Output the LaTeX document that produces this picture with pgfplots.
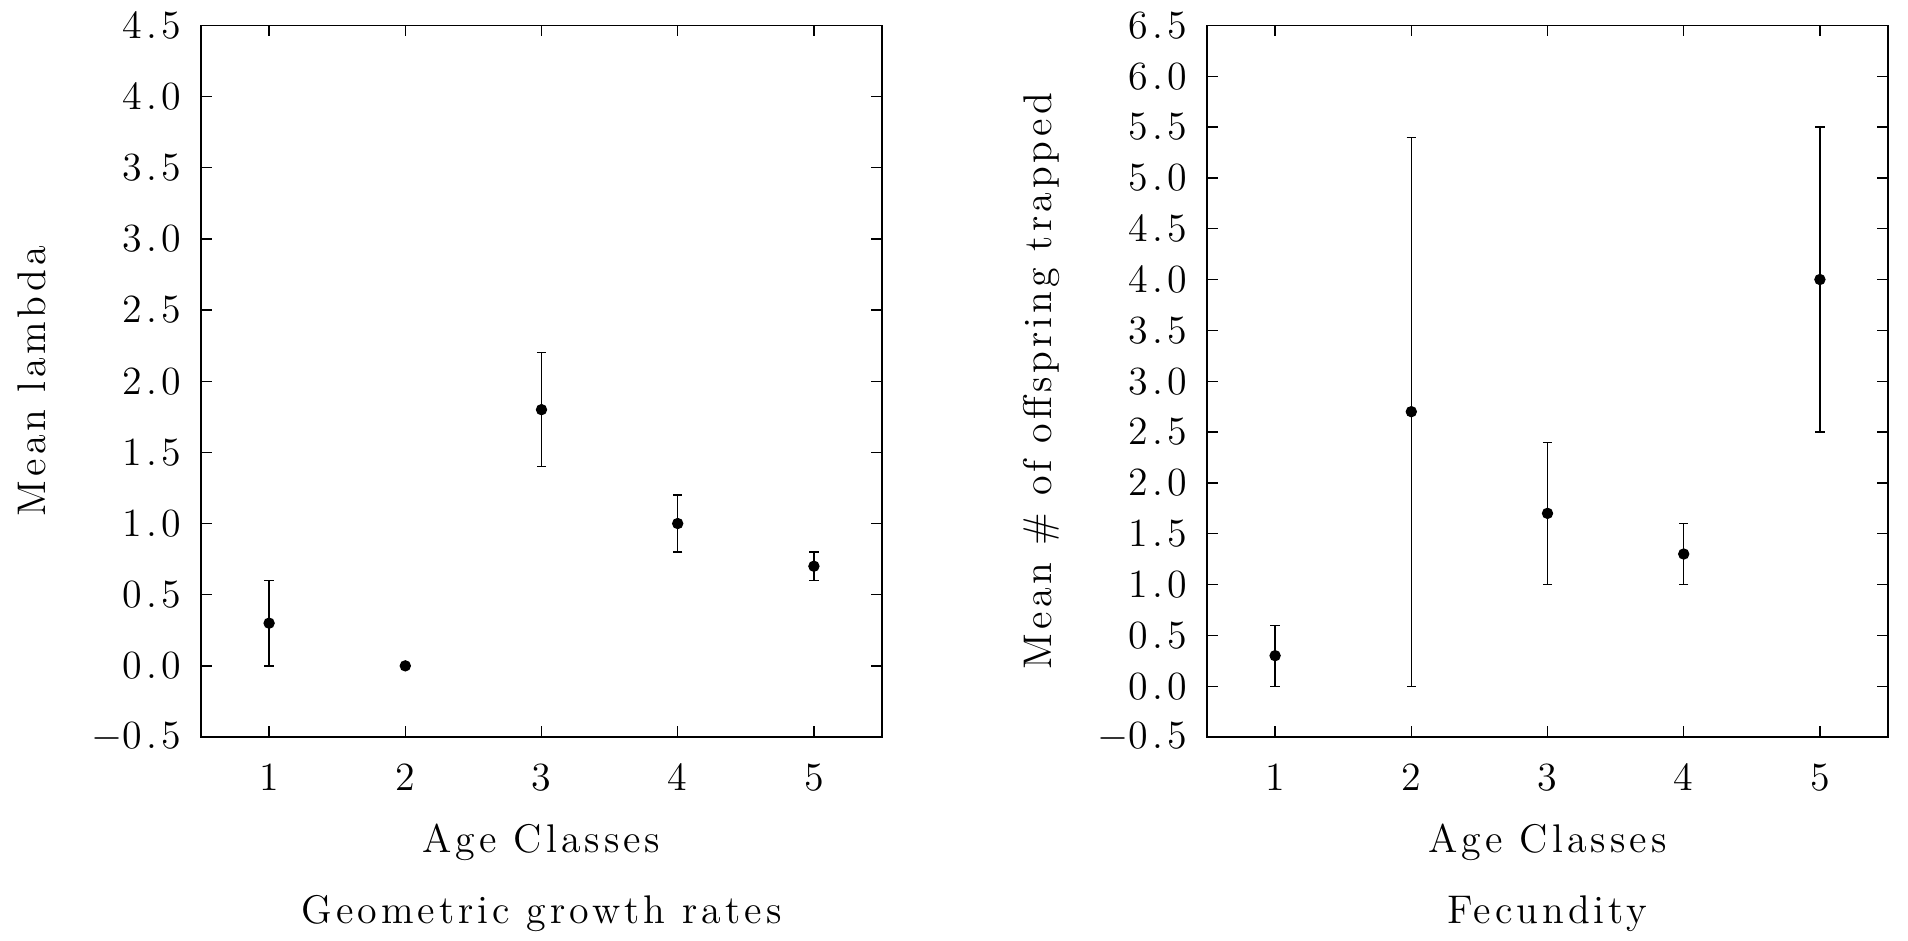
\documentclass[border=0pt]{standalone}
\usepackage{fontspec}
\usepackage{pgfplots}
\pgfplotsset{compat=1.18}
\newfontfamily\lsfont{lmroman12-regular.otf}[LetterSpace=10]
\pgfplotstableread{
x y ep em
1 0.3 0.3 0.3
2 0.0 0.0 0.0
3 1.8 0.4 0.4
4 1.0 0.2 0.2
5 0.7 0.1 0.1
}\growth
\pgfplotstableread{
x y ep em
1 0.3 0.3 0.3
2 2.7 2.7 2.7
3 1.7 0.7 0.7
4 1.3 0.3 0.3
5 4.0 1.5 1.5
}\fecund
\pgfplotsset{
  myax/.style={
    scale only axis, width=204.3pt, height=213.5pt,
    xmin=0.5, xmax=5.5, xtick={1,2,3,4,5},
    xticklabels={1,2,3,4,5},
    tick align=inside, major tick length=3.3pt,
    axis line style={line width=0.4pt},
    every tick/.style={black, line width=0.4pt},
    xticklabel style={font=\lsfont\fontsize{12}{14}\selectfont, anchor=base, yshift=-15.9pt},
    yticklabel style={font=\lsfont\fontsize{12}{14}\selectfont, anchor=east, xshift=-2.5pt},
    xlabel style={font=\lsfont\fontsize{12}{14}\selectfont, at={(axis description cs:0.5,-0.1616)}, anchor=base},
    ylabel style={font=\lsfont\fontsize{12}{14}\selectfont, at={(axis description cs:-0.229,0.5)}, anchor=base},
    title style={font=\lsfont\fontsize{12}{14}\selectfont, at={(axis description cs:0.5,-0.2895)}, anchor=base},
  },
  mypl/.style={only marks, mark=*, black, mark size=1.5pt,
    error bars/.cd, y dir=both, y explicit,
    error mark options={rotate=90, mark size=1.4pt, black, line width=0.4pt},
    error bar style={line width=0.4pt, black}},
}
\begin{document}
\begin{tikzpicture}
\path[use as bounding box] (-60.3pt,-60.9pt) rectangle (512.1pt,221.1pt);
\begin{axis}[myax, at={(0pt,0pt)}, anchor=south west,
  ymin=-0.5, ymax=4.5, ytick={-0.5,0,0.5,1,1.5,2,2.5,3,3.5,4,4.5},
  yticklabels={{$-$0.5},0.0,0.5,1.0,1.5,2.0,2.5,3.0,3.5,4.0,4.5},
  xlabel={Age Classes}, ylabel={Mean lambda}, title={Geometric growth rates}]
\addplot[mypl] table[x=x, y=y, y error plus=ep, y error minus=em] {\growth};
\end{axis}
\begin{axis}[myax, at={(301.8pt,0pt)}, anchor=south west,
  ymin=-0.5, ymax=6.5, ytick={-0.5,0,0.5,1,1.5,2,2.5,3,3.5,4,4.5,5,5.5,6,6.5},
  yticklabels={{$-$0.5},0.0,0.5,1.0,1.5,2.0,2.5,3.0,3.5,4.0,4.5,5.0,5.5,6.0,6.5},
  xlabel={Age Classes}, ylabel={Mean \# of offspring trapped}, title={Fecundity}]
\addplot[mypl] table[x=x, y=y, y error plus=ep, y error minus=em] {\fecund};
\end{axis}
\end{tikzpicture}
\end{document}
